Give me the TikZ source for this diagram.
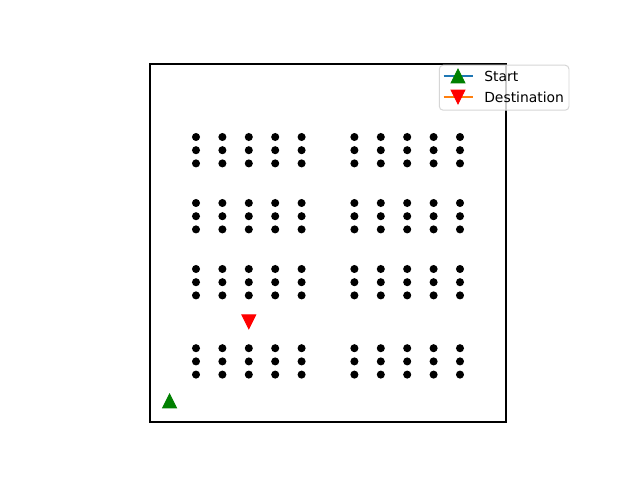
\documentclass[tikz,border=0pt]{standalone}
\usepackage{fontspec}
\setmainfont{DejaVu Sans}
\definecolor{mgreen}{HTML}{008000}
\definecolor{mred}{HTML}{FF0000}
\definecolor{tabblue}{HTML}{1F77B4}
\definecolor{taborange}{HTML}{FF7F0E}
\definecolor{legedge}{HTML}{D6D6D6}
\tikzset{
  dotmark/.style={fill=black},
  upmark/.style={fill=mgreen, draw=mgreen, line width=0.7pt, line join=miter},
  downmark/.style={fill=mred, draw=mred, line width=0.7pt, line join=miter},
  legtext/.style={anchor=base west, inner sep=0pt, font=\fontsize{10pt}{12pt}\selectfont},
  axframe/.style={draw=black, line width=1.9pt},
}
\begin{document}
\begin{tikzpicture}[x=0.72pt, y=-0.72pt]
\useasboundingbox (0,0) rectangle (640,480);
\fill[white] (0,0) rectangle (640,480);
% dots
\foreach \i in {1,2,3,4,5,7,8,9,10,11}{
  \foreach \j in {1,1.5,2,4,4.5,5,6.5,7,7.5,9,9.5,10}{
    \fill[dotmark] (169.6+26.4*\i, 401-26.4*\j) circle[radius=2.9pt];
  }
}
% start marker
\coordinate (start) at (169.6,401);
\filldraw[upmark] (start) ++(0,-6.9) -- ++(6.9,13.8) -- ++(-13.8,0) -- cycle;
% destination marker
\coordinate (dest) at (248.8,321.8);
\filldraw[downmark] (dest) ++(0,6.9) -- ++(6.9,-13.8) -- ++(-13.8,0) -- cycle;
% axes frame
\draw[axframe] (150,64) rectangle (506,422);
% legend
\draw[legedge, fill=white, fill opacity=0.8, line width=0.7pt, rounded corners=2.8] (439.3,65.2) rectangle (569,110.2);
\draw[tabblue, line width=1.05pt] (443.5,76) -- (472.5,76);
\filldraw[upmark] (458,76) ++(0,-6.9) -- ++(6.9,13.8) -- ++(-13.8,0) -- cycle;
\node[legtext] (lstart) at (484,81.3) {Start};
\draw[taborange, line width=1.05pt] (443.5,97) -- (472.5,97);
\filldraw[downmark] (458,97) ++(0,6.9) -- ++(6.9,-13.8) -- ++(-13.8,0) -- cycle;
\node[legtext] (ldest) at (484,102.3) {Destination};
\end{tikzpicture}
\end{document}
